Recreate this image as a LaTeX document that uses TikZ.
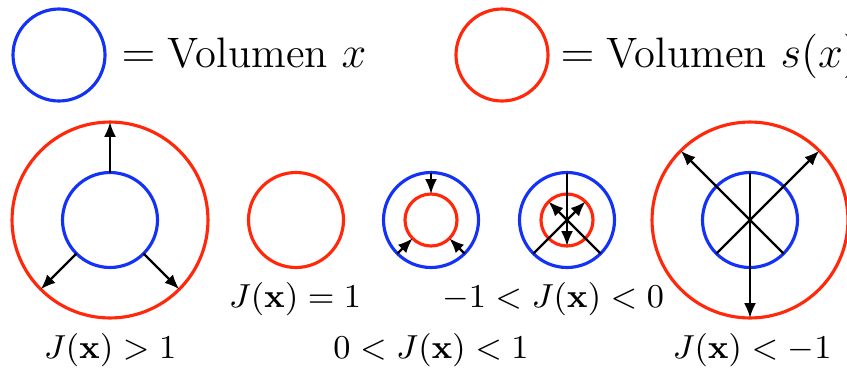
\documentclass[tikz,border=0pt]{standalone}
\usepackage{amsmath}
\usetikzlibrary{arrows.meta}

\definecolor{volblue}{RGB}{20,50,245}
\definecolor{volred}{RGB}{255,40,10}

\begin{document}
\begin{tikzpicture}
[
	x=0.27pt,y=-0.27pt,
	ring/.style={circle,draw,line width=0.85pt,inner sep=0pt,outer sep=0pt},
	xring/.style={ring,draw=volblue,minimum size=25.65pt},
	bigsring/.style={ring,draw=volred,minimum size=52.9pt},
	smallsring/.style={ring,draw=volred,minimum size=14.04pt},
	legring/.style={ring,minimum size=24.84pt},
	flow/.style={-{Latex[length=4pt,width=3.2pt]},line width=0.6pt},
	legtext/.style={anchor=base west,inner sep=0pt,font=\fontsize{11.5}{13.8}\selectfont},
	lbl/.style={anchor=base,inner sep=0pt,font=\fontsize{8.85}{10.6}\selectfont}
]
	\useasboundingbox (0,0) rectangle (847,369);

	% legend
	\node[legring,draw=volblue] (legx) at (59,55) {};
	\node[legtext] (legxtext) at (121,67) {$=\text{Volumen } x$};
	\node[legring,draw=volred] (legs) at (502,55) {};
	\node[legtext] (legstext) at (560,67) {$=\text{Volumen } s(x)$};

	% J > 1
	\node[bigsring] (sA) at (110,220) {};
	\node[xring] (xA) at (110,220) {};
	\foreach \a in {90,225,315}
		\draw[flow] (xA.\a) -- (sA.\a);
	\node[lbl] (labA) at (110,358) {$J(\mathbf{x})>1$};

	% J = 1
	\node[ring,draw=volred,minimum size=25.65pt] (sB) at (296,220) {};
	\node[lbl] (labB) at (295,307) {$J(\mathbf{x})=1$};

	% 0 < J < 1
	\node[xring] (xC) at (431,220) {};
	\node[smallsring] (sC) at (431,220) {};
	\foreach \a in {90,225,315}
		\draw[flow] (xC.\a) -- (sC.\a);
	\node[lbl] (labC) at (431,358) {$0<J(\mathbf{x})<1$};

	% -1 < J < 0
	\node[xring] (xD) at (567,220) {};
	\node[smallsring] (sD) at (567,220) {};
	\draw[flow] (xD.90) -- (sD.270);
	\draw[flow] (xD.225) -- (sD.45);
	\draw[flow] (xD.315) -- (sD.135);
	\node[lbl] (labD) at (553,307) {$-1<J(\mathbf{x})<0$};

	% J < -1
	\node[bigsring] (sE) at (750,220) {};
	\node[xring] (xE) at (750,220) {};
	\draw[flow] (xE.90) -- (sE.270);
	\draw[flow] (xE.225) -- (sE.45);
	\draw[flow] (xE.315) -- (sE.135);
	\node[lbl] (labE) at (752,358) {$J(\mathbf{x})<-1$};

\end{tikzpicture}
\end{document}
